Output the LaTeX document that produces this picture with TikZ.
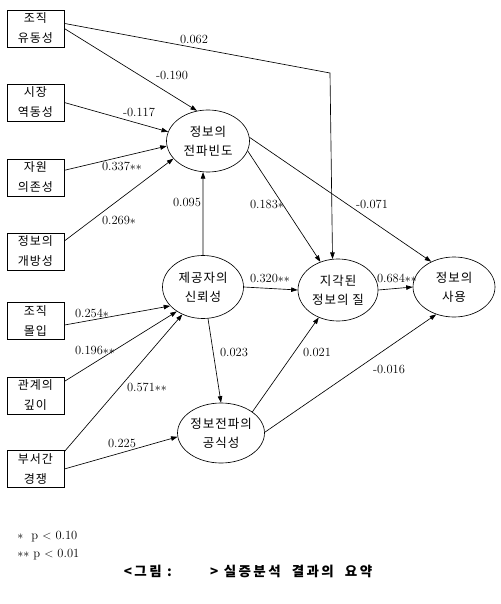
\documentclass[tikz,border=0pt]{standalone}
\usepackage{fontspec}
\newfontfamily\kr[LetterSpace=8]{Noto Sans CJK KR}
\newfontfamily\krcap[LetterSpace=18]{Noto Sans CJK KR}
\usetikzlibrary{shapes.geometric,arrows.meta}
\begin{document}
\begin{tikzpicture}[x=1pt,y=-1pt,line width=.65pt,
 >={Triangle[length=6.5pt,width=4.5pt]},
 var/.style={draw,font=\kr\fontsize{12}{20}\selectfont,minimum width=57pt,minimum height=37pt,inner sep=0pt,align=center},
 lat/.style={ellipse,draw,font=\kr\fontsize{12.5}{19}\selectfont,inner sep=0pt,align=center},
 coef/.style={font=\fontsize{12.5}{14}\selectfont,inner sep=1pt}]
\useasboundingbox (0,0) rectangle (500,604);
\foreach \i/\y/\txt in {1/28.5/{조직\\유동성},2/102.5/{시장\\역동성},3/177.5/{자원\\의존성},4/251.5/{정보의\\개방성},5/321/{조직\\몰입},6/395.5/{관계의\\깊이},7/469/{부서간\\경쟁}}
  \node[var] (b\i) at (35.5,\y) {\txt};
\node[lat,minimum width=83pt,minimum height=62pt] (freq) at (208,141) {정보의\\전파빈도};
\node[lat,minimum width=81pt,minimum height=63pt] (trust) at (203,287) {제공자의\\신뢰성};
\node[lat,minimum width=81pt,minimum height=60pt] (form) at (221,433) {정보전파의\\공식성};
\node[lat,minimum width=80pt,minimum height=62pt] (qual) at (338,290) {지각된\\정보의 질};
\node[lat,minimum width=82pt,minimum height=60pt] (use) at (454,287) {정보의\\사용};
\coordinate (bend) at (330,73);
\draw[->] (b1.10) -- (bend) -- (qual.100);
\foreach \a/\b in {b1.east/freq.110,b2.east/freq.167,b3.14/freq.187,b4.20/freq.207,
  trust.north/freq.261,freq.-14/qual.122,freq.5/use.132,trust.east/qual.west,qual.east/use.west,
  trust.-81/form.north,form.34/qual.235,form.1/use.237,
  b5.-8/trust.210,b6.26/trust.223,b7.31/trust.233,b7.east/form.185}
  \draw[->] (\a) -- (\b);
\foreach \n/\x/\y/\t in {1/194/39/0.062,2/172/75/-0.190,3/139/112/-0.117,4/122/166/{0.337$\ast\ast$},
  5/119/220/{0.269$\ast$},6/187/202/0.095,7/267/204/{0.183$\ast$},8/372/204/-0.071,
  9/270/278/{0.320$\ast\ast$},10/397/278/{0.684$\ast\ast$},11/92/313/{0.254$\ast$},
  12/95/350/{0.196$\ast\ast$},13/147/387/{0.571$\ast\ast$},14/234/352/0.023,
  15/317/352/0.021,16/389/369/-0.016,17/122/443/0.225}
  \node[coef] (c\n) at (\x,\y) {\t};
\node[coef,anchor=west] (p1) at (16,537) {$\ast$\ \ p $<$ 0.10};
\node[coef,anchor=west] (p2) at (16,555) {$\ast\ast$ p $<$ 0.01};
\node[font=\krcap\bfseries\fontsize{13.5}{15}\selectfont] (cap) at (248,571) {<그림 :\quad\quad\ \ > 실증분석\ \ 결과의\ \ 요약};
\end{tikzpicture}
\end{document}
